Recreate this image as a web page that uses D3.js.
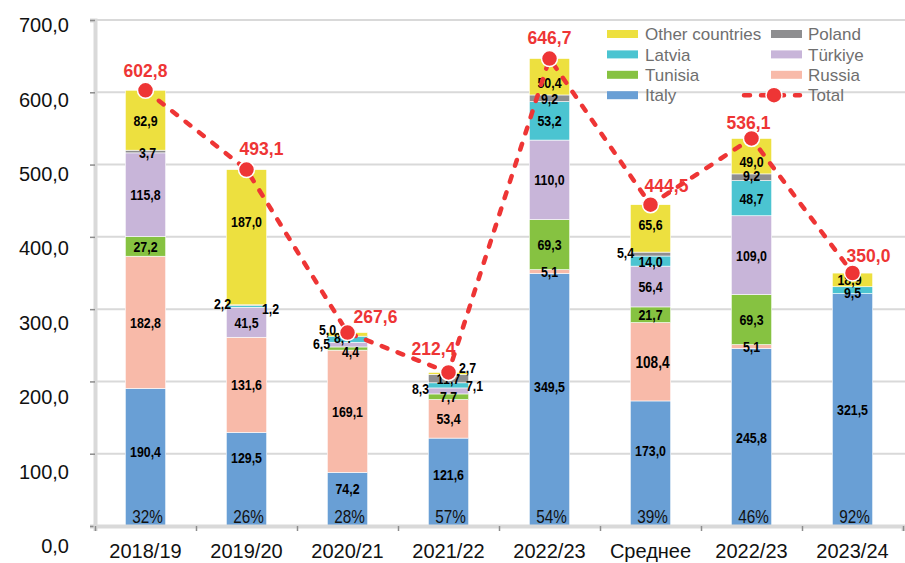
<!DOCTYPE html>
<html>
<head>
<meta charset="utf-8">
<script src="https://cdn.jsdelivr.net/npm/d3@7"></script>
<style>
  body { margin: 0; background: #fff; }
  svg text { font-family: "Liberation Sans", Arial, sans-serif; }
</style>
</head>
<body>
<div id="chart"></div>
<script>
// data, bottom to top of each bar
const categories = ["2018/19", "2019/20", "2020/21", "2021/22", "2022/23", "Среднее", "2022/23", "2023/24"];
const italy   = [190.4, 129.5, 74.2, 121.6, 349.5, 173.0, 245.8, 321.5];
const russia  = [182.8, 131.6, 169.1, 53.4, 5.1, 108.4, 5.1, 0];
const tunisia = [27.2, 0, 4.4, 7.7, 69.3, 21.7, 69.3, 0];
const turkiye = [115.8, 41.5, 6.5, 8.3, 110.0, 56.4, 109.0, 0];
const latvia  = [0, 2.2, 8.4, 7.1, 53.2, 14.0, 48.7, 9.5];
const poland  = [3.7, 1.2, 0, 11.7, 9.2, 5.4, 9.2, 0];
const other   = [82.9, 187.0, 5.0, 2.7, 50.4, 65.6, 49.0, 18.9];
const totals  = [602.8, 493.1, 267.6, 212.4, 646.7, 444.5, 536.1, 350.0];
const italyShare = ["32%", "26%", "28%", "57%", "54%", "39%", "46%", "92%"];
const yTicks = [0, 100, 200, 300, 400, 500, 600, 700];

const seriesKeys = ["italy", "russia", "tunisia", "turkiye", "latvia", "poland", "other"];
const seriesNames = {italy: "Italy", russia: "Russia", tunisia: "Tunisia", turkiye: "Türkiye",
  latvia: "Latvia", poland: "Poland", other: "Other countries"};
const colors = {italy: "#699fd5", russia: "#f8baa9", tunisia: "#86c241", turkiye: "#c8b5d9",
  latvia: "#4bc4d1", poland: "#8e8e90", other: "#ede03f"};
const red = "#ee3535";

// hand placement of crowded labels  [dx, dy]
const labelNudge = {
  "0-italy": [0, -6], "0-poland": [2, 1],
  "1-italy": [0, -22], "1-other": [0, -16], "1-latvia": [-24, -3], "1-poland": [24, 3],
  "2-italy": [0, -11], "2-other": [-20, -5], "2-latvia": [-5, -2], "2-turkiye": [-26, -1], "2-tunisia": [3, 3],
  "3-italy": [0, -8], "3-other": [19, -6], "3-turkiye": [-28, -3], "3-latvia": [26, 0],
  "4-italy": [0, -13], "4-other": [0, 6],
  "5-italy": [0, -13], "5-other": [0, -4], "5-poland": [-25, -2], "5-russia": [2, 0],
  "6-other": [0, 5], "6-poland": [0, -2],
  "7-latvia": [0, 2], "7-other": [-3, 0]
};
const totalNudge = [[0, -20], [15, -21], [28, -16], [-15, -24], [0, -21], [16, -19], [-3, -16], [16, -17]];

const rows = categories.map((c, i) => ({
  i: i, cat: c, italy: italy[i], russia: russia[i], tunisia: tunisia[i], turkiye: turkiye[i],
  latvia: latvia[i], poland: poland[i], other: other[i]
}));

const fmt = d3.formatLocale({decimal: ",", thousands: " ", grouping: [3], currency: ["", ""]}).format(".1f");

const width = 905, height = 563;
const svg = d3.select("#chart").append("svg").attr("width", width).attr("height", height);

const x = d3.scaleBand().domain(d3.range(categories.length)).range([95, 903])
  .paddingInner(0.6).paddingOuter(0.3);
const y = d3.scaleLinear().domain([0, 700]).range([526, 20]);
// tick labels sit on a slightly stretched scale in the original
const yLab = d3.scaleLinear().domain([0, 700]).range([546, 25]);
const xb = d3.scaleLinear().domain([0, categories.length]).range([95, 903]);
const cx = i => x(i) + x.bandwidth() / 2;

// gridlines
svg.append("g").selectAll("line").data(yTicks.filter(t => t > 0)).join("line")
  .attr("x1", 95).attr("x2", 905)
  .attr("y1", d => y(d)).attr("y2", d => y(d))
  .attr("stroke", "#d9d9d9").attr("stroke-width", 2);

// y axis
const yAxisG = svg.append("g").attr("transform", "translate(95,0)")
  .call(d3.axisLeft(y).tickValues(yTicks).tickSize(5).tickFormat(""));
yAxisG.select(".domain").attr("stroke", "#d9d9d9").attr("stroke-width", 4);
yAxisG.selectAll(".tick line").attr("stroke", "#8c8c8c").attr("stroke-width", 1.5);
svg.append("g").selectAll("text").data(yTicks).join("text")
  .attr("x", 69).attr("y", d => yLab(d)).attr("dy", "0.36em")
  .attr("text-anchor", "end").style("font-size", "20px").attr("fill", "#111")
  .text(d => fmt(d));

// bars
const stacked = d3.stack().keys(seriesKeys)(rows);
const layers = svg.append("g").selectAll("g").data(stacked).join("g")
  .attr("fill", d => colors[d.key]);
layers.selectAll("rect").data(d => d).join("rect")
  .attr("x", d => x(d.data.i)).attr("width", x.bandwidth())
  .attr("y", d => y(d[1])).attr("height", d => y(d[0]) - y(d[1]))
  .attr("stroke", "#fff").attr("stroke-width", 0.6);

// x axis
const xAxisG = svg.append("g").attr("transform", "translate(0,526)")
  .call(d3.axisBottom(xb).tickValues(d3.range(categories.length + 1)).tickSize(5).tickFormat(""));
xAxisG.select(".domain").attr("stroke", "#d9d9d9").attr("stroke-width", 4);
xAxisG.selectAll(".tick line").attr("stroke", "#8c8c8c").attr("stroke-width", 1.5);
svg.append("g").selectAll("text").data(categories).join("text")
  .attr("x", (d, i) => cx(i)).attr("y", 551).attr("dy", "0.36em")
  .attr("text-anchor", "middle").style("font-size", "20px").attr("fill", "#111")
  .text(d => d);

// segment labels (narrow bold look)
const segs = [];
stacked.forEach(layer => layer.forEach(p => {
  const v = p.data[layer.key];
  if (v > 0) segs.push({i: p.data.i, key: layer.key, v: v, y0: p[0], y1: p[1]});
}));
const nud = d => labelNudge[d.i + "-" + d.key] || [0, 0];
svg.append("g").selectAll("text").data(segs).join("text")
  .attr("transform", d => `translate(${cx(d.i) + nud(d)[0]},${y((d.y0 + d.y1) / 2) + nud(d)[1]}) scale(0.8,1)`)
  .attr("dy", "0.36em").attr("text-anchor", "middle")
  .style("font-size", d => (d.i === 5 && d.key === "russia") ? "17px" : "15.5px")
  .style("font-weight", "bold").attr("fill", "#000")
  .text(d => fmt(d.v));

// italy share
svg.append("g").selectAll("text").data(italyShare).join("text")
  .attr("transform", (d, i) => `translate(${cx(i) + 2},517) scale(0.85,1)`)
  .attr("dy", "0.36em")
  .attr("text-anchor", "middle").style("font-size", "18px").attr("fill", "#111")
  .text(d => d);

// total line
const line = d3.line().x((d, i) => cx(i)).y(d => y(d));
svg.append("path").datum(totals).attr("d", line)
  .attr("fill", "none").attr("stroke", red).attr("stroke-width", 4.5)
  .attr("stroke-dasharray", "6,11").attr("stroke-linecap", "round");
svg.append("g").selectAll("circle").data(totals).join("circle")
  .attr("cx", (d, i) => cx(i)).attr("cy", d => y(d)).attr("r", 8)
  .attr("fill", red).attr("stroke", "#fff").attr("stroke-width", 1.5);
svg.append("g").selectAll("text").data(totals).join("text")
  .attr("x", (d, i) => cx(i) + totalNudge[i][0])
  .attr("y", (d, i) => y(d) + totalNudge[i][1]).attr("dy", "0.36em")
  .attr("text-anchor", "middle").style("font-size", "17.5px").style("font-weight", "bold")
  .attr("fill", red).text(d => fmt(d));

// legend
const legendItems = [
  {key: "other", col: 0, row: 0}, {key: "latvia", col: 0, row: 1},
  {key: "tunisia", col: 0, row: 2}, {key: "italy", col: 0, row: 3},
  {key: "poland", col: 1, row: 0}, {key: "turkiye", col: 1, row: 1},
  {key: "russia", col: 1, row: 2}, {key: "total", col: 1, row: 3}
];
const legend = svg.append("g");
const lg = legend.selectAll("g").data(legendItems).join("g")
  .attr("transform", d => `translate(${d.col ? 771 : 607},${34 + d.row * 20.4})`);
lg.filter(d => d.key !== "total").append("rect")
  .attr("x", 0).attr("y", -4).attr("width", 31).attr("height", 8)
  .attr("fill", d => colors[d.key]);
lg.append("text").attr("x", d => d.col ? 37 : 38).attr("dy", "0.36em")
  .style("font-size", "17px").attr("fill", "#6f6f6f")
  .text(d => d.key === "total" ? "Total" : seriesNames[d.key]);
const tot = lg.filter(d => d.key === "total");
tot.append("line").attr("x1", -27).attr("x2", 29).attr("y1", 0).attr("y2", 0)
  .attr("stroke", red).attr("stroke-width", 4.5)
  .attr("stroke-dasharray", "6,11").attr("stroke-linecap", "round");
tot.append("circle").attr("cx", 3).attr("cy", 0).attr("r", 8)
  .attr("fill", red).attr("stroke", "#fff").attr("stroke-width", 1.5);
</script>
</body>
</html>
